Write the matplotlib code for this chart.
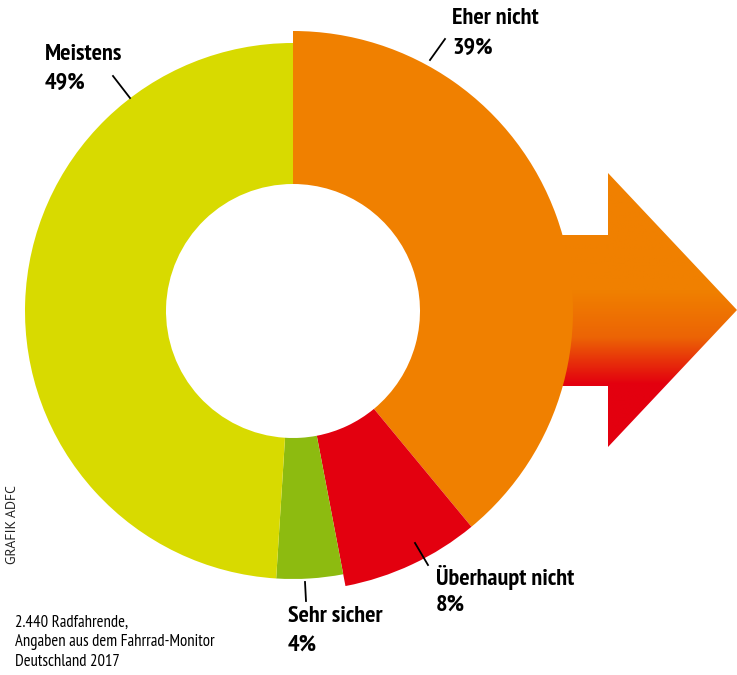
import matplotlib
matplotlib.use("Agg")
import matplotlib.pyplot as plt
import numpy as np
from matplotlib.colors import LinearSegmentedColormap
from matplotlib.patches import Polygon

labels = ["Eher nicht", "Überhaupt nicht", "Sehr sicher", "Meistens"]
values = [39, 8, 4, 49]
colors = ["#F08000", "#E3000F", "#8DBB10", "#D8DA00"]
big = [True, True, False, False]   # segments drawn slightly larger
note = ["2.440 Radfahrende,", "Angaben aus dem Fahrrad-Monitor", "Deutschland 2017"]

W, H = 737, 675
cx, cy = 293, H - 311
r_small, r_big, r_in = 268, 280, 127

plt.rcParams['font.family'] = ['PT Sans Narrow', 'DejaVu Sans']
fig = plt.figure(figsize=(W / 100, H / 100), dpi=100)
ax = fig.add_axes([0, 0, 1, 1])

# arrow behind the donut, orange -> red gradient
arrow = [(480, H - 235), (608, H - 235), (608, H - 173), (737, H - 310),
         (608, H - 447), (608, H - 386), (480, H - 386)]
cmap = LinearSegmentedColormap.from_list("arr", [(0, "#F08000"), (0.43, "#F08000"),
                                                 (0.6, "#EC6405"), (0.77, "#E3000F"),
                                                 (1, "#E3000F")])
grad = np.linspace(0, 1, 256).reshape(-1, 1)
img = ax.imshow(grad, cmap=cmap, aspect="auto", extent=(480, 737, H - 447, H - 173),
                origin="upper", zorder=1)
poly = Polygon(arrow, closed=True, facecolor="none", edgecolor="none")
ax.add_patch(poly)
img.set_clip_path(poly)

wedges, _ = ax.pie(values, colors=colors, startangle=90, counterclock=False,
                   center=(cx, cy), radius=r_small,
                   wedgeprops=dict(width=r_small - r_in, linewidth=0))
for w, b in zip(wedges, big):
    w.set_zorder(2)
    if b:
        w.set_radius(r_big)
        w.set_width(r_big - r_in)

ax.set_xlim(0, W)
ax.set_ylim(0, H)
ax.set_aspect("equal")
ax.axis("off")

lab_kw = dict(fontsize=17.5, fontweight="bold", color="black", va="center", ha="left")
# label positions: (x, y of name, y of percent), leader line
pos = {
    "Eher nicht": (452, 18, 48, [(430, 60), (445, 39)]),
    "Überhaupt nicht": (436, 577, 605, [(415, 543), (428, 565)]),
    "Sehr sicher": (288, 616, 645, [(305, 582), (306, 601)]),
    "Meistens": (45, 55, 83, [(113, 76), (130, 98)]),
}
for lab, v in zip(labels, values):
    x, y1, y2, line = pos[lab]
    ax.text(x, H - y1, lab, **lab_kw)
    ax.text(x, H - y2, f"{v}%", **lab_kw)
    ax.plot([p[0] for p in line], [H - p[1] for p in line], color="black", lw=1.3)

for i, t in enumerate(note):
    ax.text(15, H - (623 + i * 19.5), t, fontsize=12, va="center", ha="left")

ax.text(13, H - 524, "GRAFIK ADFC", rotation=90, fontsize=10, va="center", ha="center",
        color="#222222", family=['PT Sans', 'DejaVu Sans'])

fig.savefig("out.png", dpi=100)
